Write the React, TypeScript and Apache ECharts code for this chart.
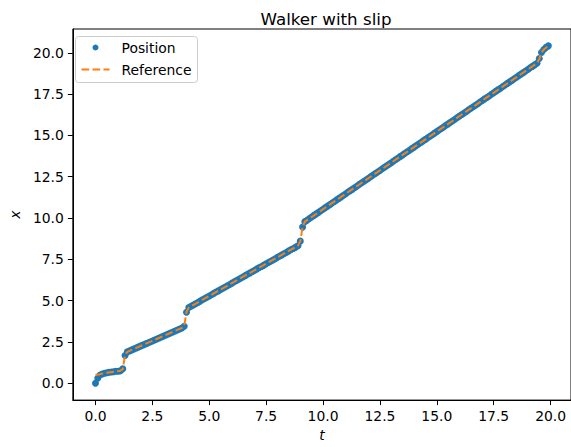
import React, { useEffect, useRef } from "react";
import * as echarts from "echarts";

const title = "Walker with slip";
const xLabel = "t";
const yLabel = "x";
const tickValues = [0, 2.5, 5, 7.5, 10, 12.5, 15, 17.5, 20];

const times = [
  0.0, 0.1, 0.2, 0.3, 0.4, 0.5, 0.6, 0.7, 0.8, 0.9,
  1.0, 1.1, 1.2, 1.3, 1.4, 1.5, 1.6, 1.7, 1.8, 1.9,
  2.0, 2.1, 2.2, 2.3, 2.4, 2.5, 2.6, 2.7, 2.8, 2.9,
  3.0, 3.1, 3.2, 3.3, 3.4, 3.5, 3.6, 3.7, 3.8, 3.9,
  4.0, 4.1, 4.2, 4.3, 4.4, 4.5, 4.6, 4.7, 4.8, 4.9,
  5.0, 5.1, 5.2, 5.3, 5.4, 5.5, 5.6, 5.7, 5.8, 5.9,
  6.0, 6.1, 6.2, 6.3, 6.4, 6.5, 6.6, 6.7, 6.8, 6.9,
  7.0, 7.1, 7.2, 7.3, 7.4, 7.5, 7.6, 7.7, 7.8, 7.9,
  8.0, 8.1, 8.2, 8.3, 8.4, 8.5, 8.6, 8.7, 8.8, 8.9,
  9.0, 9.1, 9.2, 9.3, 9.4, 9.5, 9.6, 9.7, 9.8, 9.9,
  10.0, 10.1, 10.2, 10.3, 10.4, 10.5, 10.6, 10.7, 10.8, 10.9,
  11.0, 11.1, 11.2, 11.3, 11.4, 11.5, 11.6, 11.7, 11.8, 11.9,
  12.0, 12.1, 12.2, 12.3, 12.4, 12.5, 12.6, 12.7, 12.8, 12.9,
  13.0, 13.1, 13.2, 13.3, 13.4, 13.5, 13.6, 13.7, 13.8, 13.9,
  14.0, 14.1, 14.2, 14.3, 14.4, 14.5, 14.6, 14.7, 14.8, 14.9,
  15.0, 15.1, 15.2, 15.3, 15.4, 15.5, 15.6, 15.7, 15.8, 15.9,
  16.0, 16.1, 16.2, 16.3, 16.4, 16.5, 16.6, 16.7, 16.8, 16.9,
  17.0, 17.1, 17.2, 17.3, 17.4, 17.5, 17.6, 17.7, 17.8, 17.9,
  18.0, 18.1, 18.2, 18.3, 18.4, 18.5, 18.6, 18.7, 18.8, 18.9,
  19.0, 19.1, 19.2, 19.3, 19.4, 19.5, 19.6, 19.7, 19.8, 19.9,
];

const positions = [
  0.0, 0.3, 0.5, 0.56, 0.6, 0.63, 0.66, 0.68, 0.7, 0.72,
  0.73, 0.75, 0.88, 1.68, 1.9, 1.96, 2.02, 2.08, 2.14, 2.2,
  2.26, 2.32, 2.38, 2.44, 2.5, 2.56, 2.62, 2.68, 2.74, 2.8,
  2.86, 2.92, 2.98, 3.04, 3.1, 3.16, 3.22, 3.28, 3.34, 3.45,
  4.3, 4.58, 4.66, 4.74, 4.81, 4.89, 4.97, 5.05, 5.13, 5.2,
  5.28, 5.36, 5.44, 5.52, 5.59, 5.67, 5.75, 5.83, 5.9, 5.98,
  6.06, 6.14, 6.22, 6.29, 6.37, 6.45, 6.53, 6.61, 6.68, 6.76,
  6.84, 6.92, 7.0, 7.07, 7.15, 7.23, 7.31, 7.38, 7.46, 7.54,
  7.62, 7.7, 7.77, 7.85, 7.93, 8.01, 8.09, 8.16, 8.24, 8.32,
  8.6, 9.45, 9.78, 9.87, 9.97, 10.06, 10.16, 10.25, 10.34, 10.44,
  10.53, 10.63, 10.72, 10.81, 10.91, 11.0, 11.1, 11.19, 11.28, 11.38,
  11.47, 11.57, 11.66, 11.75, 11.85, 11.94, 12.04, 12.13, 12.22, 12.32,
  12.41, 12.51, 12.6, 12.69, 12.79, 12.88, 12.98, 13.07, 13.16, 13.26,
  13.35, 13.45, 13.54, 13.63, 13.73, 13.82, 13.92, 14.01, 14.1, 14.2,
  14.29, 14.39, 14.48, 14.57, 14.67, 14.76, 14.86, 14.95, 15.04, 15.14,
  15.23, 15.33, 15.42, 15.51, 15.61, 15.7, 15.8, 15.89, 15.98, 16.08,
  16.17, 16.27, 16.36, 16.45, 16.55, 16.64, 16.74, 16.83, 16.92, 17.02,
  17.11, 17.21, 17.3, 17.39, 17.49, 17.58, 17.68, 17.77, 17.86, 17.96,
  18.05, 18.15, 18.24, 18.33, 18.43, 18.52, 18.62, 18.71, 18.8, 18.9,
  18.99, 19.09, 19.18, 19.27, 19.37, 19.65, 20.02, 20.2, 20.33, 20.42,
];

const refTimes = [0.0, 0.2, 0.5, 1.1, 1.2, 1.3, 1.4, 3.8, 3.9, 4.0, 4.1, 8.9, 9.0, 9.1, 9.2, 19.4, 19.5, 19.6, 19.7, 19.9];
const refPositions = [0.5, 0.55, 0.64, 0.76, 0.85, 1.7, 1.9, 3.35, 3.48, 4.32, 4.58, 8.33, 8.6, 9.45, 9.78, 19.37, 19.62, 20.03, 20.2, 20.42];

const FONT = "DejaVu Sans";
const BLUE = "#1f77b4";
const ORANGE = "#ff7f0e";

export default function App() {
  const ref = useRef<HTMLDivElement>(null);
  useEffect(() => {
    document.body.style.margin = "0";
    const chart = echarts.init(ref.current!, null, { renderer: "svg" });
    const posData = times.map((t, i) => [t, positions[i]]);
    const refData = refTimes.map((t, i) => [t, refPositions[i]]);
    const fmt = (v: number) => v.toFixed(1);
    chart.setOption({
      animation: false,
      backgroundColor: "#fff",
      title: {
        text: title,
        left: 321,
        top: 5,
        textAlign: "center",
        textStyle: { fontFamily: FONT, fontSize: 16.7, fontWeight: "normal", color: "#000" },
      },
      grid: {
        left: 68,
        right: -3,
        top: 29,
        bottom: 41,
        show: true,
        borderColor: "#000",
        borderWidth: 1,
        backgroundColor: "transparent",
      },
      xAxis: {
        type: "value",
        min: -0.995,
        max: 20.895,
        name: xLabel,
        nameLocation: "middle",
        nameGap: 27,
        nameTextStyle: { fontFamily: FONT, fontSize: 13.9, fontStyle: "italic", color: "#000" },
        axisLine: { show: true, onZero: false, lineStyle: { color: "#000", width: 1 } },
        axisTick: { show: true, length: 5, customValues: tickValues, lineStyle: { color: "#000" } },
        axisLabel: {
          customValues: tickValues,
          formatter: fmt,
          margin: 9,
          fontFamily: FONT,
          fontSize: 13.9,
          color: "#000",
        },
        splitLine: { show: false },
      },
      yAxis: {
        type: "value",
        min: -1.021,
        max: 21.441,
        name: yLabel,
        nameLocation: "middle",
        nameGap: 50,
        nameRotate: 90,
        nameTextStyle: { fontFamily: FONT, fontSize: 13.9, fontStyle: "italic", color: "#000" },
        axisLine: { show: true, onZero: false, lineStyle: { color: "#000", width: 1 } },
        axisTick: { show: true, length: 5, customValues: tickValues, lineStyle: { color: "#000" } },
        axisLabel: {
          customValues: tickValues,
          formatter: fmt,
          margin: 9,
          fontFamily: FONT,
          fontSize: 13.9,
          color: "#000",
        },
        splitLine: { show: false },
      },
      series: [
        {
          name: "Position",
          type: "scatter",
          data: posData,
          symbol: "circle",
          symbolSize: 7,
          itemStyle: { color: BLUE, opacity: 1 },
          z: 2,
        },
        {
          name: "Reference",
          type: "line",
          data: refData,
          showSymbol: false,
          lineStyle: { color: ORANGE, width: 2, type: [7.7, 3.3] },
          z: 3,
        },
      ],
      graphic: [
        {
          type: "group",
          left: 75,
          top: 36,
          children: [
            {
              type: "rect",
              shape: { x: 0, y: 0, width: 122, height: 46, r: 3 },
              style: { fill: "rgba(255,255,255,0.8)", stroke: "#cccccc", lineWidth: 1 },
            },
            { type: "circle", shape: { cx: 20, cy: 11, r: 3 }, style: { fill: BLUE } },
            {
              type: "line",
              shape: { x1: 6, y1: 33, x2: 34, y2: 33 },
              style: { stroke: ORANGE, lineWidth: 2, lineDash: [7.7, 3.3] },
            },
            {
              type: "text",
              x: 46,
              y: 11,
              style: { text: "Position", fontFamily: FONT, fontSize: 13.9, fill: "#000", verticalAlign: "middle" },
            },
            {
              type: "text",
              x: 46,
              y: 33,
              style: { text: "Reference", fontFamily: FONT, fontSize: 13.9, fill: "#000", verticalAlign: "middle" },
            },
          ],
        },
      ],
    });
    return () => chart.dispose();
  }, []);
  return <div ref={ref} style={{ width: 571, height: 447 }} />;
}
